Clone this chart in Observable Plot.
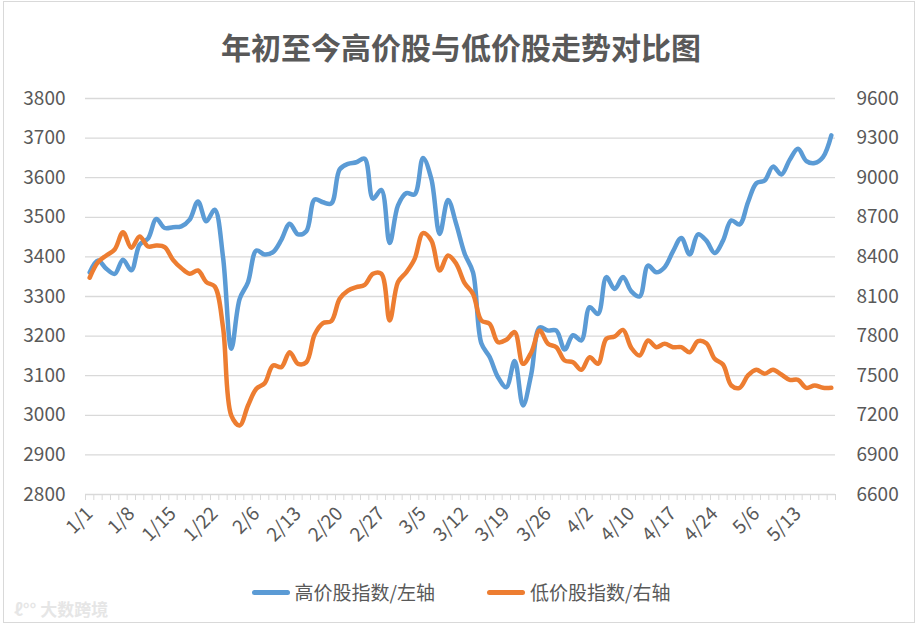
<!DOCTYPE html>
<html>
<head>
<meta charset="utf-8">
<script src="https://cdn.jsdelivr.net/npm/d3@7"></script>
<script src="https://cdn.jsdelivr.net/npm/@observablehq/plot@0.6"></script>
<style>
  html, body { margin: 0; padding: 0; background: #fff; }
  #wrap { position: relative; width: 922px; height: 629px; overflow: hidden; font-family: "Noto Sans CJK SC", "Open Sans", sans-serif; }
  #frame { position: absolute; left: 3px; top: 1px; width: 912px; height: 622px; border: 1.5px solid #d9d9d9; box-sizing: border-box; }
  #title { position: absolute; left: 0; top: 24px; width: 922px; text-align: center; font-size: 30px; font-weight: bold; color: #595959; line-height: 44px; }
  #chart { position: absolute; left: 0; top: 80px; }
  #legend { position: absolute; left: 0; top: 578px; width: 922px; display: flex; justify-content: center; align-items: center; font-size: 19px; color: #595959; line-height: 28px; }
  .item { display: flex; align-items: center; margin: 0 26px; }
  .sw { width: 38px; height: 5px; border-radius: 3px; margin-right: 5px; }
  #wm { position: absolute; left: 14px; top: 596px; font-size: 17px; color: #e6e6e6; font-weight: bold; }
</style>
</head>
<body>
<div id="wrap">
  <div id="frame"></div>
  <div id="title">年初至今高价股与低价股走势对比图</div>
  <div id="chart"></div>
  <div id="legend"></div>
  <div id="wm">ℓ°° 大数跨境</div>
</div>
<script>
const dates = ["1/1","1/2","1/3","1/6","1/7","1/8","1/9","1/10","1/13","1/14","1/15","1/16","1/17","1/20","1/21","1/22","1/23",
"2/3","2/4","2/5","2/6","2/7","2/10","2/11","2/12","2/13","2/14","2/17","2/18","2/19","2/20","2/21","2/24","2/25","2/26","2/27","2/28",
"3/2","3/3","3/4","3/5","3/6","3/9","3/10","3/11","3/12","3/13","3/16","3/17","3/18","3/19","3/20","3/23","3/24","3/25","3/26","3/27","3/30","3/31",
"4/1","4/2","4/3","4/7","4/8","4/9","4/10","4/13","4/14","4/15","4/16","4/17","4/20","4/21","4/22","4/23","4/24","4/27","4/28","4/29","4/30",
"5/6","5/7","5/8","5/11","5/12","5/13","5/14","5/15","5/18","5/19"];

const highName = "高价股指数/左轴";
const lowName = "低价股指数/右轴";

const high = [3361,3391,3370,3357,3393,3366,3431,3446,3496,3473,3475,3477,3494,3540,3490,3519,3400,
3168,3294,3336,3416,3406,3412,3443,3484,3457,3465,3545,3538,3535,3621,3635,3639,3648,3547,3569,3435,
3530,3561,3558,3650,3597,3458,3544,3482,3408,3361,3182,3147,3096,3071,3137,3025,3105,3222,3214,3214,3166,3202,
3189,3273,3256,3349,3319,3349,3313,3300,3378,3361,3374,3414,3448,3406,3457,3441,3410,3441,3492,3482,3538,
3586,3593,3628,3608,3645,3673,3642,3637,3652,3707];

const low = [8242,8360,8411,8456,8587,8469,8555,8479,8486,8474,8378,8315,8272,8297,8209,8176,7868,
7198,7123,7274,7401,7443,7577,7565,7678,7590,7602,7812,7898,7913,8083,8145,8171,8188,8272,8272,7918,
8209,8284,8385,8580,8524,8297,8411,8347,8201,8120,7918,7893,7754,7772,7830,7590,7678,7842,7742,7716,7615,7602,
7545,7640,7590,7780,7797,7847,7711,7653,7767,7716,7742,7716,7716,7678,7762,7746,7628,7585,7426,7408,7502,
7545,7515,7545,7509,7469,7469,7408,7426,7408,7408];

const leftTicks = [2800,2900,3000,3100,3200,3300,3400,3500,3600,3700,3800];
const rightTicks = [6600,6900,7200,7500,7800,8100,8400,8700,9000,9300,9600];
const labelEvery = 5;

const blue = "#5B9BD5", orange = "#ED7D31";

// map right-axis values onto the left scale
const r0 = rightTicks[0], r1 = rightTicks[rightTicks.length-1];
const l0 = leftTicks[0], l1 = leftTicks[leftTicks.length-1];
const toLeft = v => l0 + (v - r0) * (l1 - l0) / (r1 - r0);
const toRight = v => Math.round(r0 + (v - l0) * (r1 - r0) / (l1 - l0));

const idx = d3.range(dates.length);
const highData = idx.map(i => ({i, v: high[i]}));
const lowData = idx.map(i => ({i, v: toLeft(low[i])}));
const bounds = d3.range(dates.length + 1).map(k => k - 0.5);
const labelIdx = idx.filter(i => i % labelEvery === 0);

const chart = Plot.plot({
  width: 922,
  height: 490,
  marginLeft: 85,
  marginRight: 87,
  marginTop: 18,
  marginBottom: 76,
  x: {domain: [-0.5, dates.length - 0.5]},
  y: {domain: [l0, l1]},
  style: {fontFamily: "'Noto Sans CJK SC', 'Open Sans', sans-serif", color: "#595959", background: "transparent", overflow: "visible"},
  marks: [
    Plot.ruleY(leftTicks, {stroke: "#d9d9d9", strokeWidth: 1.3}),
    Plot.axisX({ticks: bounds, tickSize: 6, tickFormat: () => "", stroke: "#d9d9d9", strokeOpacity: 1, label: null}),
    Plot.axisX({ticks: labelIdx, tickSize: 0, tickPadding: 12, tickRotate: -45, tickFormat: i => dates[i], fontSize: 19, fill: "#595959", label: null, dy: 4}),
    Plot.axisY({ticks: leftTicks, anchor: "left", tickSize: 0, tickPadding: 20, fontSize: 19, fill: "#595959", label: null, tickFormat: d => String(d)}),
    Plot.axisY({ticks: leftTicks, anchor: "right", tickSize: 0, tickPadding: 21, fontSize: 19, fill: "#595959", label: null, tickFormat: d => String(toRight(d))}),
    Plot.line(highData, {x: "i", y: "v", stroke: blue, strokeWidth: 4.5, curve: "catmull-rom", strokeLinecap: "round", strokeLinejoin: "round"}),
    Plot.line(lowData, {x: "i", y: "v", stroke: orange, strokeWidth: 4.5, curve: "catmull-rom", strokeLinecap: "round", strokeLinejoin: "round"})
  ]
});
document.getElementById("chart").appendChild(chart);

const legend = document.getElementById("legend");
[[highName, blue], [lowName, orange]].forEach(([name, c]) => {
  const it = document.createElement("div");
  it.className = "item";
  const sw = document.createElement("div");
  sw.className = "sw";
  sw.style.background = c;
  const t = document.createElement("span");
  t.textContent = name;
  it.appendChild(sw); it.appendChild(t);
  legend.appendChild(it);
});
</script>
</body>
</html>
